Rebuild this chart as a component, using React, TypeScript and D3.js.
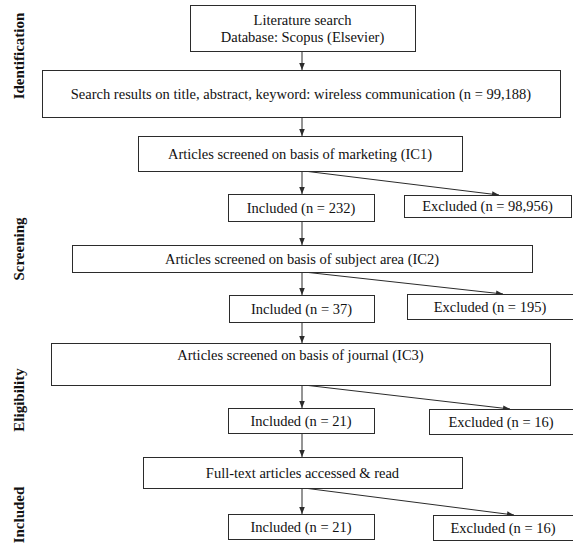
import React from 'react';
import * as d3 from 'd3';

// Flow stages (rotated labels on the left)
const stages = ['Identification', 'Screening', 'Eligibility', 'Included'];
const stageCenters = [56, 249, 400, 515];

// Main column boxes
const mainBoxes = [
  ['Literature search', 'Database: Scopus (Elsevier)'],
  ['Search results on title, abstract, keyword: wireless communication (n = 99,188)'],
  ['Articles screened on basis of marketing (IC1)'],
  ['Included (n = 232)'],
  ['Articles screened on basis of subject area (IC2)'],
  ['Included (n = 37)'],
  ['Articles screened on basis of journal (IC3)'],
  ['Included (n = 21)'],
  ['Full-text articles accessed & read'],
  ['Included (n = 21)'],
];
// x0, y0, x1, y1
const mainLayout = [
  [190, 5, 415, 51],
  [42, 70, 560, 117],
  [138, 136, 462, 171],
  [228, 194, 374, 221],
  [72, 245, 532, 272],
  [229, 295, 374, 322],
  [51, 343, 550, 385],
  [228, 408, 374, 433],
  [143, 457, 462, 488],
  [228, 514, 374, 539],
];
const textOffsets = [0, 0, 0, 0, 0, 0, -9, 0, 0, 0];

// Excluded boxes, branching from screening boxes
const excluded = ['Excluded (n = 98,956)', 'Excluded (n = 195)', 'Excluded (n = 16)', 'Excluded (n = 16)'];
const excludedFrom = [2, 4, 6, 8];
const excludedLayout = [
  [404, 195, 571, 217],
  [407, 294, 573, 319],
  [429, 409, 573, 434],
  [433, 515, 573, 540],
];
const excludedTarget = [499, 503, 510, 514];

const spineX = 302;
const ink = '#2b2b2b';
const font = "'Liberation Serif', 'Times New Roman', Times, serif";

export default function App() {
  const arrows: string[] = [];
  for (let i = 0; i < mainLayout.length - 1; i++) {
    const p = d3.path();
    p.moveTo(spineX, mainLayout[i][3]);
    p.lineTo(spineX, mainLayout[i + 1][1]);
    arrows.push(p.toString());
  }
  excludedFrom.forEach((src, k) => {
    const p = d3.path();
    p.moveTo(spineX + 2, mainLayout[src][3]);
    p.lineTo(excludedTarget[k], excludedLayout[k][1]);
    arrows.push(p.toString());
  });

  const txt = { fontFamily: font, fontSize: '14.5px', fill: '#111' };

  return (
    <svg width={573} height={543} style={{ position: 'absolute', left: 0, top: 0, background: '#fff' }}>
      <defs>
        <marker id="ah" viewBox="0 0 10 10" refX="10" refY="5" markerWidth="7" markerHeight="7" orient="auto" markerUnits="userSpaceOnUse">
          <path d="M0,1 L10,5 L0,9 z" fill={ink} />
        </marker>
      </defs>
      {stages.map((s, i) => (
        <text key={s} transform={`translate(24,${stageCenters[i]}) rotate(-90)`} textAnchor="middle"
          style={{ fontFamily: font, fontWeight: 'bold', fontSize: '15px', fill: '#111' }}>{s}</text>
      ))}
      {arrows.map((d, i) => (
        <path key={i} d={d} stroke={ink} strokeWidth={1} fill="none" markerEnd="url(#ah)" />
      ))}
      {mainBoxes.map((lines, i) => {
        const [x0, y0, x1, y1] = mainLayout[i];
        const cy = (y0 + y1) / 2 + textOffsets[i];
        return (
          <g key={i}>
            <rect x={x0 + 0.5} y={y0 + 0.5} width={x1 - x0} height={y1 - y0} fill="#fff" stroke={ink} strokeWidth={1} />
            {lines.map((l, j) => (
              <text key={j} x={(x0 + x1) / 2} y={cy + (j - (lines.length - 1) / 2) * 17} dy="0.35em"
                textAnchor="middle" style={txt}>{l}</text>
            ))}
          </g>
        );
      })}
      {excluded.map((l, i) => {
        const [x0, y0, x1, y1] = excludedLayout[i];
        return (
          <g key={'e' + i}>
            <rect x={x0 + 0.5} y={y0 + 0.5} width={x1 - x0} height={y1 - y0} fill="#fff" stroke={ink} strokeWidth={1} />
            <text x={(x0 + x1) / 2} y={(y0 + y1) / 2} dy="0.35em" textAnchor="middle" style={txt}>{l}</text>
          </g>
        );
      })}
    </svg>
  );
}
